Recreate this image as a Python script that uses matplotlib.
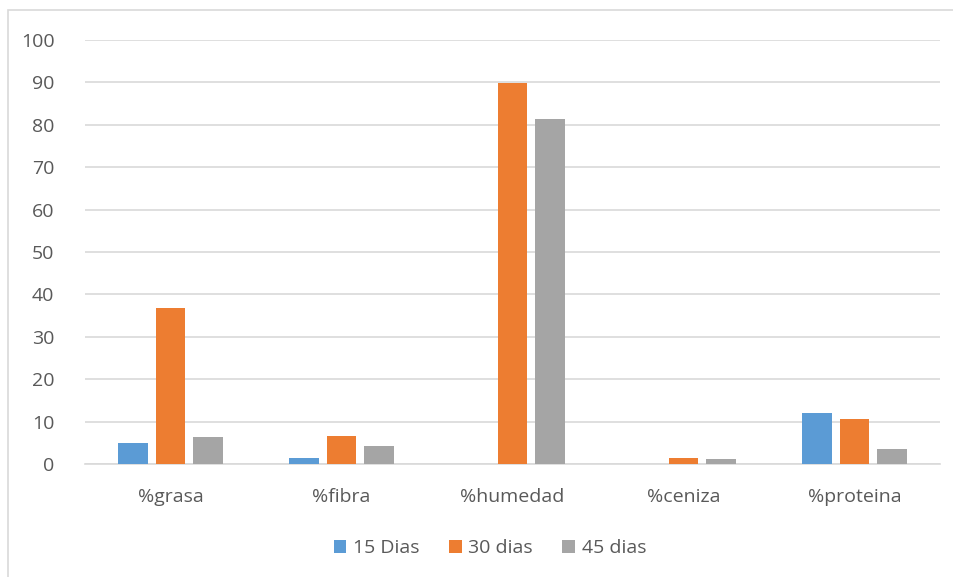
import matplotlib
matplotlib.use("Agg")
import matplotlib.pyplot as plt
from matplotlib.patches import Rectangle
import numpy as np

categories = ["%grasa", "%fibra", "%humedad", "%ceniza", "%proteina"]
series_names = ["15 Dias", "30 dias", "45 dias"]
dias_15 = [5.0, 1.3, 0.0, 0.0, 12.1]
dias_30 = [36.9, 6.5, 89.8, 1.5, 10.6]
dias_45 = [6.4, 4.2, 81.4, 1.1, 3.6]
y_ticks = [0, 10, 20, 30, 40, 50, 60, 70, 80, 90, 100]

colors = ["#5b9bd5", "#ed7d31", "#a5a5a5"]
text_color = "#595959"
grid_color = "#d9d9d9"

plt.rcParams["font.family"] = ["Open Sans", "DejaVu Sans"]

W, H = 954, 577
fig = plt.figure(figsize=(W / 100, H / 100), dpi=100)
ax = fig.add_axes([85 / W, 1 - 464 / H, (940 - 85) / W, (464 - 40) / H])

# chart-area border
fig.patches.append(Rectangle((8 / W, -0.01), 1.0, 1 - 10 / H + 0.01,
                             transform=fig.transFigure, fill=False,
                             edgecolor=grid_color, linewidth=1.2))

x = np.arange(len(categories))
width = 0.175
step = 0.222
for i, (vals, name) in enumerate(zip([dias_15, dias_30, dias_45], series_names)):
    ax.bar(x + (i - 1) * step, vals, width, color=colors[i], label=name, zorder=3)

ax.set_xlim(-0.5, len(categories) - 0.5)
ax.set_ylim(0, 100)
ax.set_yticks(y_ticks)
ax.set_xticks(x)
ax.set_xticklabels(categories)
ax.yaxis.grid(True, color=grid_color, linewidth=1.2, zorder=0)
ax.tick_params(axis="both", length=0, labelsize=14, colors=text_color)
ax.tick_params(axis="y", pad=22)
ax.tick_params(axis="x", pad=17)
for side in ["top", "right", "left"]:
    ax.spines[side].set_visible(False)
ax.spines["bottom"].set_color(grid_color)
ax.spines["bottom"].set_linewidth(1.2)

leg = fig.legend(loc="center", bbox_to_anchor=(490 / W, 1 - 548 / H), ncol=3,
                 frameon=False, fontsize=14, handlelength=0.65, handleheight=0.65,
                 handletextpad=0.35, columnspacing=1.5)
for t in leg.get_texts():
    t.set_color(text_color)

fig.savefig("out.png", dpi=100)
